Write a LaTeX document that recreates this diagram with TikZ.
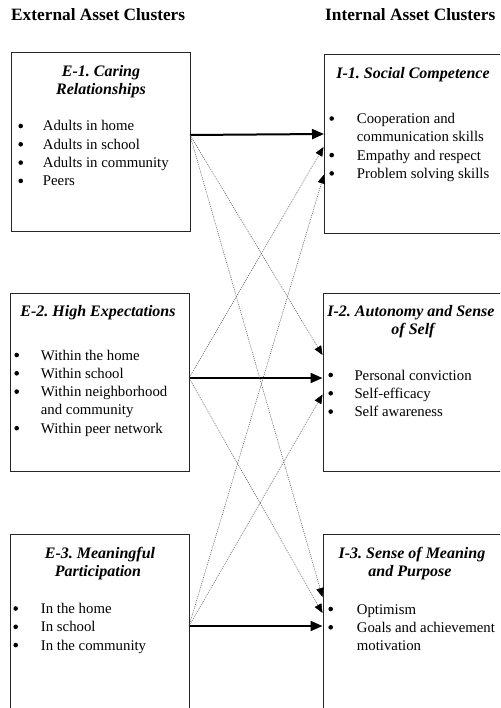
\documentclass[tikz,border=0pt]{standalone}
\usepackage{fontspec}
\setmainfont{Liberation Serif}
\usetikzlibrary{arrows.meta}

\tikzset{
  box/.style={draw=black!85, line width=0.8pt, anchor=north west, inner sep=0pt},
  header/.style={font=\fontsize{17.3}{20}\selectfont\bfseries, anchor=base west, inner sep=0pt},
  title/.style={font=\fontsize{16}{18}\selectfont\bfseries\itshape, anchor=base, inner sep=0pt},
  item/.style={font=\fontsize{14.8}{18}\selectfont, anchor=base west, inner sep=0pt},
  dot/.style={circle, fill=black, inner sep=0pt, minimum size=4.6pt, yshift=5pt},
  strong/.style={-{Triangle[length=12pt, width=10pt]}, line width=2pt},
  weak/.style={-{Triangle[length=9pt, width=7.5pt, color=black]}, draw=black!70,
    line width=0.5pt, dash pattern=on 1pt off 1pt},
}

\begin{document}
\frenchspacing
\begin{tikzpicture}[x=1pt, y=-1pt]

  \clip (0,0) rectangle (500,708);

  % --- column headers ---
  \node[header] (exthead) at (11,20.7) {External Asset Clusters};
  \node[header] (inthead) at (325,20.7) {Internal Asset Clusters};

  % --- boxes ---
  \node[box, minimum width=179pt, minimum height=179pt] (E1) at (11,52) {};
  \node[box, minimum width=190pt, minimum height=179pt] (I1) at (324,54) {};
  \node[box, minimum width=179.5pt, minimum height=178.5pt] (E2) at (9.5,292.5) {};
  \node[box, minimum width=190pt, minimum height=178.5pt] (I2) at (322.5,292.5) {};
  \node[box, minimum width=179.5pt, minimum height=200pt] (E3) at (9.5,534) {};
  \node[box, minimum width=190pt, minimum height=200pt] (I3) at (322.5,534) {};

  % --- E-1 ---
  \node[title] (E1ta) at (101,76.5) {E-1. Caring};
  \node[title] (E1tb) at (101,94.8) {Relationships};
  \foreach \txt [count=\i] in {Adults in home, Adults in school,
      Adults in community, Peers} {
    \node[dot] (E1d\i) at (20.7,{112.7+18.3*\i}) {};
    \node[item] (E1i\i) at (42.7,{112.7+18.3*\i}) {\txt};
  }

  % --- I-1 ---
  \node[title] (I1ta) at (413,78.3) {I-1. Social Competence};
  \node[dot] (I1d1) at (331.7,123.5) {};
  \node[item] (I1i1) at (356.7,123.5) {Cooperation and};
  \node[item] (I1i1b) at (356.7,141.8) {communication skills};
  \node[dot] (I1d2) at (331.7,160.1) {};
  \node[item] (I1i2) at (356.7,160.1) {Empathy and respect};
  \node[dot] (I1d3) at (331.7,178.4) {};
  \node[item] (I1i3) at (356.7,178.4) {Problem solving skills};

  % --- E-2 ---
  \node[title] (E2ta) at (98,316) {E-2. High Expectations};
  \node[dot] (E2d1) at (16.7,360) {};
  \node[item] (E2i1) at (40.7,360) {Within the home};
  \node[dot] (E2d2) at (16.7,378.3) {};
  \node[item] (E2i2) at (40.7,378.3) {Within school};
  \node[dot] (E2d3) at (16.7,396.6) {};
  \node[item] (E2i3) at (40.7,396.6) {Within neighborhood};
  \node[item] (E2i3b) at (40.7,414.9) {and community};
  \node[dot] (E2d4) at (16.7,433.2) {};
  \node[item] (E2i4) at (40.7,433.2) {Within peer network};

  % --- I-2 ---
  \node[title] (I2ta) at (411,316) {I-2. Autonomy and Sense};
  \node[title] (I2tb) at (413,334.3) {of Self};
  \foreach \txt [count=\i] in {Personal conviction, Self-efficacy, Self awareness} {
    \node[dot] (I2d\i) at (330.7,{361.7+18.3*\i}) {};
    \node[item] (I2i\i) at (354.3,{361.7+18.3*\i}) {\txt};
  }

  % --- E-3 ---
  \node[title] (E3ta) at (100,558.3) {E-3. Meaningful};
  \node[title] (E3tb) at (98,576.5) {Participation};
  \foreach \txt [count=\i] in {In the home, In school, In the community} {
    \node[dot] (E3d\i) at (15.7,{595.2+18.3*\i}) {};
    \node[item] (E3i\i) at (40.7,{595.2+18.3*\i}) {\txt};
  }

  % --- I-3 ---
  \node[title] (I3ta) at (412,558.3) {I-3. Sense of Meaning};
  \node[title] (I3tb) at (410,576.7) {and Purpose};
  \node[dot] (I3d1) at (330.7,614) {};
  \node[item] (I3i1) at (356.7,614) {Optimism};
  \node[dot] (I3d2) at (330.7,632.3) {};
  \node[item] (I3i2) at (356.7,632.3) {Goals and achievement};
  \node[item] (I3i2b) at (356.7,650.6) {motivation};

  % --- ports ---
  \coordinate (e1) at (190,135);
  \coordinate (e2) at (189,378);
  \coordinate (e3) at (189,626);
  \coordinate (i1a) at (324,134);
  \coordinate (i1b) at (323.5,147);
  \coordinate (i1c) at (324,174.5);
  \coordinate (i2a) at (322.5,355);
  \coordinate (i2b) at (322.5,378);
  \coordinate (i2c) at (322.5,394.5);
  \coordinate (i3a) at (322.5,597);
  \coordinate (i3b) at (322.5,613);
  \coordinate (i3c) at (322.5,626);

  % --- direct links ---
  \draw[strong] (e1) -- (i1a);
  \draw[strong] (e2) -- (i2b);
  \draw[strong] (e3) -- (i3c);

  % --- cross links ---
  \draw[weak] (e1) -- (i2a);
  \draw[weak] (e1) -- (i3a);
  \draw[weak] (e2) -- (i1b);
  \draw[weak] (e2) -- (i3b);
  \draw[weak] (e3) -- (i1c);
  \draw[weak] (e3) -- (i2c);

\end{tikzpicture}
\end{document}
